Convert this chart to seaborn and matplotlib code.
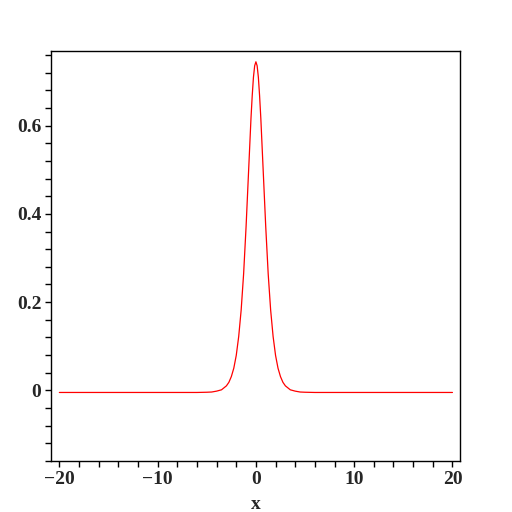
import seaborn as sns
import matplotlib.pyplot as plt
from matplotlib.ticker import MultipleLocator

# valores (curva tipo pico centrado en 0)
x_vals = [-20, -10, -6, -5, -4.5, -4, -3.5, -3, -2.75, -2.5, -2.25, -2, -1.75, -1.5,
          -1.25, -1, -0.75, -0.5, -0.375, -0.25, -0.125, 0, 0.125, 0.25, 0.375, 0.5,
          0.75, 1, 1.25, 1.5, 1.75, 2, 2.25, 2.5, 2.75, 3, 3.5, 4, 4.5, 5, 6, 10, 20]
y_vals = [-0.005, -0.005, -0.005, -0.0045, -0.004, -0.002, 0.001, 0.010, 0.018, 0.031,
          0.050, 0.079, 0.122, 0.182, 0.264, 0.371, 0.494, 0.617, 0.668, 0.710, 0.736,
          0.745, 0.736, 0.710, 0.668, 0.617, 0.494, 0.371, 0.264, 0.182, 0.122, 0.079,
          0.050, 0.031, 0.018, 0.010, 0.001, -0.002, -0.004, -0.0045, -0.005, -0.005,
          -0.005]
y_ticks = [0, 0.2, 0.4, 0.6]
y_tick_labels = ['0', '0.2', '0.4', '0.6']
x_ticks = [-20, -10, 0, 10, 20]
x_tick_labels = ['\u221220', '\u221210', '0', '10', '20']

sns.set_style("white")
plt.rcParams['font.family'] = ['Liberation Serif', 'DejaVu Serif']

fig = plt.figure(figsize=(5.12, 5.12), dpi=100)
ax = fig.add_axes([0.0996, 0.100, 0.7985, 0.800])

sns.lineplot(x=x_vals, y=y_vals, color='red', linewidth=0.9, ax=ax)

ax.set_xlim(-20.85, 20.75)
ax.set_ylim(-0.160, 0.769)
ax.set_xticks(x_ticks)
ax.set_xticklabels(x_tick_labels)
ax.set_yticks(y_ticks)
ax.set_yticklabels(y_tick_labels)
ax.xaxis.set_minor_locator(MultipleLocator(2))
ax.yaxis.set_minor_locator(MultipleLocator(0.04))
ax.tick_params(which='both', direction='out', length=4, width=1, color='black',
               bottom=True, left=True, top=False, right=False)
ax.tick_params(which='major', labelsize=14, pad=3)
for lab in ax.get_xticklabels() + ax.get_yticklabels():
    lab.set_fontweight('bold')

for s in ax.spines.values():
    s.set_color('black')
    s.set_linewidth(1)

ax.set_xlabel('x', fontsize=14, fontweight='bold', labelpad=6)
ax.set_ylabel('')

fig.savefig('out.png', dpi=100, facecolor='white')
